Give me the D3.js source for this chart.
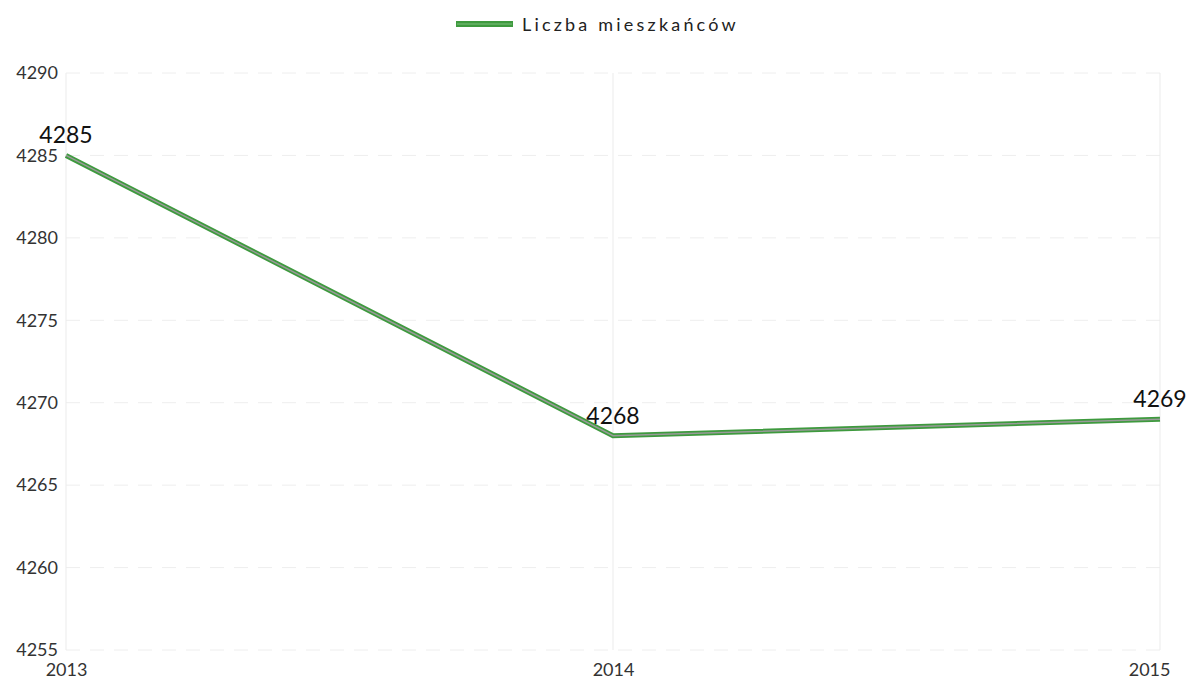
<!DOCTYPE html>
<html><head><meta charset="utf-8">
<script src="https://cdn.jsdelivr.net/npm/d3@7"></script>
<style>body{margin:0;background:#fff;}svg{display:block;font-family:Lato,"Open Sans",sans-serif;}</style>
</head><body>
<svg id="c" width="1190" height="681"></svg>
<script>
const years = ["2013","2014","2015"];
const population = [4285, 4268, 4269];
const yTicks = [4255,4260,4265,4270,4275,4280,4285,4290];
const seriesName = "Liczba mieszkańców";

const svg = d3.select("#c");
const x = d3.scalePoint().domain(years).range([66, 1160]);
const y = d3.scaleLinear().domain([4255, 4290]).range([650, 73]);

// grid
svg.append("g").selectAll("line").data(yTicks).join("line")
  .attr("x1", 66).attr("x2", 1160).attr("y1", d=>y(d)).attr("y2", d=>y(d))
  .attr("stroke", "#eeeeee").attr("stroke-width", 1).attr("stroke-dasharray", "14,10");
svg.append("g").selectAll("line").data(years).join("line")
  .attr("x1", d=>x(d)).attr("x2", d=>x(d)).attr("y1", 73).attr("y2", 650)
  .attr("stroke", "#ebebeb").attr("stroke-width", 1);

// y axis labels
const yAxis = d3.axisLeft(y).tickValues(yTicks).tickSize(0).tickPadding(8).tickFormat(d3.format("d"));
const ga = svg.append("g").attr("transform", "translate(66,0)").call(yAxis);
ga.select(".domain").remove();
ga.selectAll("text").attr("font-size", 18).attr("fill", "#333").attr("font-family", "Lato,sans-serif");

// x axis labels
const xAxis = d3.axisBottom(x).tickSize(0).tickPadding(13);
const gx = svg.append("g").attr("transform", "translate(0,650)").call(xAxis);
gx.select(".domain").remove();
gx.selectAll("text").attr("font-size", 18).attr("fill", "#333").attr("font-family", "Lato,sans-serif")
  .attr("text-anchor", (d,i)=> i===years.length-1 ? "end" : "middle")
  .attr("dx", (d,i)=> i===years.length-1 ? 10 : 0);

// line
const data = years.map((yr,i)=>({yr, v: population[i]}));
const line = d3.line().x(d=>x(d.yr)).y(d=>y(d.v));
svg.append("path").datum(data).attr("d", line).attr("fill","none")
  .attr("stroke", "#3e9a3e").attr("stroke-width", 5).attr("stroke-linejoin","miter");
svg.append("path").datum(data).attr("d", line).attr("fill","none")
  .attr("stroke", "#9a9a9a").attr("stroke-width", 1.5);

// data labels (centered above each point)
svg.append("g").selectAll("text").data(data).join("text")
  .attr("x", d=>x(d.yr)).attr("y", d=>y(d.v)-12)
  .attr("text-anchor", "middle")
  .attr("font-size", 23).attr("fill", "#111")
  .text(d=>d.v);

// legend
const lg = svg.append("g");
lg.append("rect").attr("x", 456).attr("y", 21).attr("width", 57).attr("height", 6).attr("fill", "#3e9a3e");
lg.append("line").attr("x1", 457).attr("x2", 512).attr("y1", 24).attr("y2", 24).attr("stroke","#7cbf7c").attr("stroke-width",1);
lg.append("text").attr("x", 522).attr("y", 31).attr("font-size", 18).attr("letter-spacing", 3.2)
  .attr("fill", "#222").text(seriesName);
</script>
</body></html>
